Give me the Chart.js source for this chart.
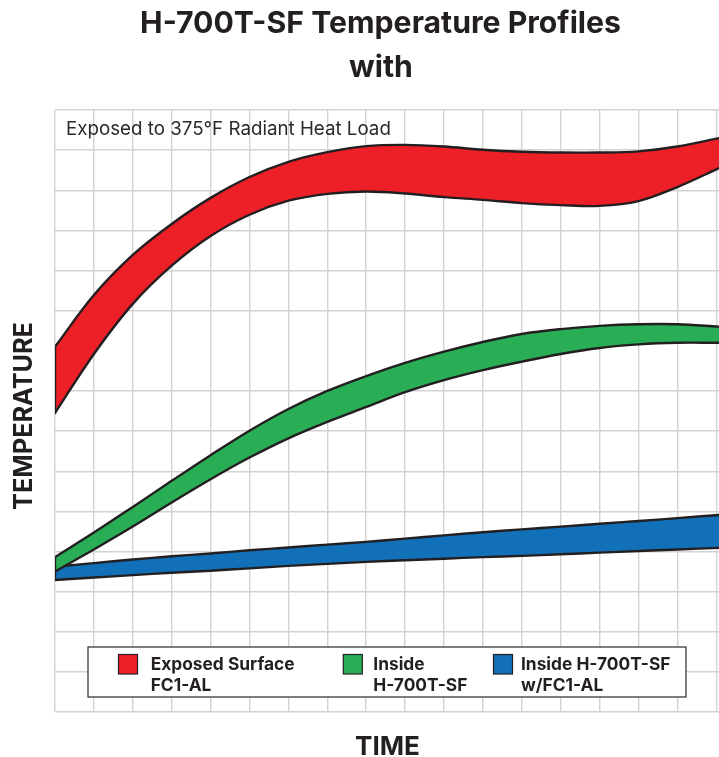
<!DOCTYPE html>
<html>
<head>
<meta charset="utf-8">
<script src="https://cdn.jsdelivr.net/npm/chart.js@4/dist/chart.umd.min.js"></script>
<style>
html,body{margin:0;padding:0;background:#fff;}
canvas{display:block;}
</style>
</head>
<body>
<canvas id="c" width="719" height="757"></canvas>
<script>
// ---- data (grid units: x = time grid columns, y = temperature grid rows) ----
const timeSteps = [0,1,2,3,4,5,6,7,8,9,10,11,12,13,14,15,16,17.07];
const xGridTicks = [0,1,2,3,4,5,6,7,8,9,10,11,12,13,14,15,16,17];
const yGridTicks = [0,1,2,3,4,5,6,7,8,10,11,12,13,14,15];

const exposedUpper = [9.10,10.39,11.39,12.16,12.81,13.33,13.71,13.95,14.10,14.13,14.09,14.01,13.96,13.94,13.94,13.97,14.09,14.30];
const exposedLower = [7.45,8.92,10.17,11.12,11.86,12.39,12.74,12.91,12.97,12.92,12.83,12.76,12.68,12.63,12.61,12.73,13.08,13.55];

const insideUpper = [3.86,4.47,5.11,5.76,6.40,7.01,7.55,8.00,8.37,8.70,8.98,9.22,9.42,9.54,9.62,9.66,9.66,9.60];
const insideLower = [3.50,4.05,4.62,5.22,5.80,6.34,6.82,7.23,7.60,7.97,8.27,8.52,8.73,8.92,9.07,9.16,9.20,9.20];

const withFcUpper = [3.62,3.71,3.80,3.88,3.95,4.03,4.10,4.17,4.24,4.32,4.40,4.48,4.55,4.62,4.69,4.76,4.83,4.91];
const withFcLower = [3.29,3.35,3.41,3.47,3.52,3.58,3.64,3.69,3.74,3.78,3.82,3.86,3.89,3.93,3.97,4.01,4.05,4.09];

const seriesNames = [["Exposed Surface","FC1-AL"],["Inside","H-700T-SF"],["Inside H-700T-SF","w/FC1-AL"]];
const titleLines = ["H-700T-SF Temperature Profiles","with"];
const noteText = "Exposed to 375°F Radiant Heat Load";
const xTitle = "TIME";
const yTitle = "TEMPERATURE";

// ---- styles ----
const RED = '#ED1F27', GREEN = '#2AAE55', BLUE = '#1270B9', INK = '#231F20';
const LW = 2.4;
const pts = arr => timeSteps.map((t,i)=>({x:t,y:arr[i]}));
const edge = (lo,hi) => [{x:timeSteps[0],y:lo[0]},{x:timeSteps[0],y:hi[0]}];

function bandLine(data, fillTarget, color, order){
  return {data, fill: fillTarget===null?false:{target:fillTarget}, backgroundColor:color,
    borderColor:INK, borderWidth:LW, pointRadius:0, tension:0.35,
    borderJoinStyle:'round', borderCapStyle:'round', order};
}

const FAM = 'Inter, "Open Sans", sans-serif';
function fit(ctx, text, weight, w){
  ctx.font = weight + ' 100px ' + FAM;
  return 100 * w / ctx.measureText(text).width;
}

const textPlugin = {
  id:'texts',
  afterDraw(chart){
    const ctx = chart.ctx;
    ctx.save();
    ctx.fillStyle = INK;
    ctx.textBaseline = 'alphabetic';
    ctx.textAlign = 'left';
    // title
    let s = fit(ctx, titleLines[0], '700', 481);
    ctx.font = '700 ' + s + 'px ' + FAM;
    ctx.textAlign = 'center';
    ctx.fillText(titleLines[0], 380.5, 33);
    ctx.fillText(titleLines[1], 381, 77);
    // note
    ctx.textAlign = 'left';
    ctx.fillStyle = '#2b2b2b';
    s = fit(ctx, noteText, '400', 325);
    ctx.font = '400 ' + s + 'px ' + FAM;
    ctx.fillText(noteText, 66, 135);
    // axis titles
    ctx.fillStyle = INK;
    s = fit(ctx, xTitle, '700', 65);
    ctx.font = '700 ' + s + 'px ' + FAM;
    ctx.textAlign = 'center';
    ctx.fillText(xTitle, 387.5, 755);
    s = fit(ctx, yTitle, '700', 188);
    ctx.save();
    ctx.translate(31.5, 416);
    ctx.rotate(-Math.PI/2);
    ctx.font = '700 ' + s + 'px ' + FAM;
    ctx.fillText(yTitle, 0, 0);
    ctx.restore();
    // legend
    ctx.fillStyle = '#fff';
    ctx.fillRect(88, 647, 598, 50);
    ctx.strokeStyle = '#3a3a3a';
    ctx.lineWidth = 1.3;
    ctx.strokeRect(88, 647, 598, 50);
    const sw = [[118.5, RED, 150.7],[343.3, GREEN, 373.3],[493.5, BLUE, 521]];
    s = fit(ctx, seriesNames[0][0], '700', 144);
    ctx.textAlign = 'left';
    sw.forEach((e,i)=>{
      ctx.fillStyle = e[1];
      ctx.fillRect(e[0], 654.5, 19, 19.5);
      ctx.strokeStyle = INK; ctx.lineWidth = 1.2;
      ctx.strokeRect(e[0], 654.5, 19, 19.5);
      ctx.fillStyle = INK;
      ctx.font = '700 ' + s + 'px ' + FAM;
      ctx.fillText(seriesNames[i][0], e[2], 669.5);
      ctx.fillText(seriesNames[i][1], e[2], 690.5);
    });
    ctx.restore();
  }
};

new Chart(document.getElementById('c'), {
  type:'line',
  data:{datasets:[
    bandLine(pts(exposedUpper), 1, RED, 3),
    bandLine(pts(exposedLower), null, RED, 2),
    bandLine(pts(insideUpper), 3, GREEN, 6),
    bandLine(pts(insideLower), null, GREEN, 5),
    bandLine(pts(withFcUpper), 5, BLUE, 9),
    bandLine(pts(withFcLower), null, BLUE, 8),
    Object.assign(bandLine(edge(exposedLower, exposedUpper), null, RED, 2), {tension:0}),
    Object.assign(bandLine(edge(insideLower, insideUpper), null, GREEN, 5), {tension:0}),
    Object.assign(bandLine(edge(withFcLower, withFcUpper), null, BLUE, 8), {tension:0})
  ]},
  options:{
    responsive:false, animation:false, devicePixelRatio:1,
    layout:{padding:{left:55, right:0, top:110, bottom:45}},
    plugins:{legend:{display:false}, tooltip:{enabled:false}, title:{display:false}},
    scales:{
      x:{type:'linear', min:0, max:17.07,
        afterBuildTicks: sc => { sc.ticks = xGridTicks.map(v=>({value:v})); },
        ticks:{display:false}, border:{display:false},
        grid:{color:'#d3d3d3', lineWidth:1.4, drawTicks:false}},
      y:{type:'linear', min:0, max:15,
        afterBuildTicks: sc => { sc.ticks = yGridTicks.map(v=>({value:v})); },
        ticks:{display:false}, border:{display:false},
        grid:{color:'#d3d3d3', lineWidth:1.4, drawTicks:false}}
    }
  },
  plugins:[textPlugin]
});
</script>
</body>
</html>
